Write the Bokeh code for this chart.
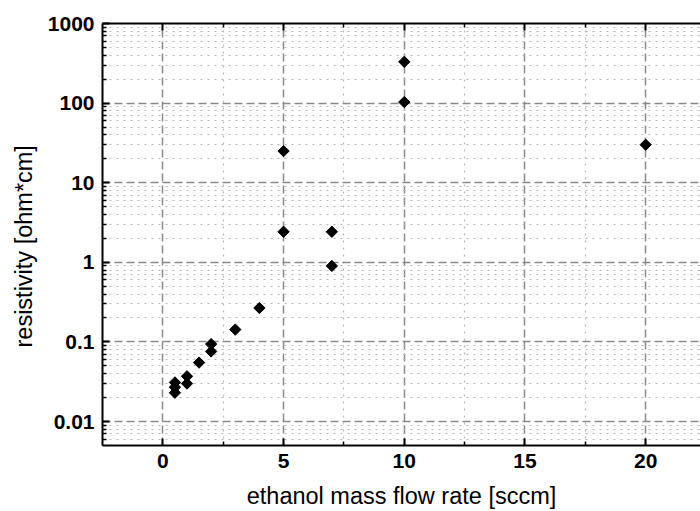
import numpy as np
from bokeh.plotting import figure
from bokeh.models import LinearAxis, FixedTicker, Range1d, Title
from bokeh.embed import file_html
from bokeh.resources import INLINE

# ---- data ----
flow_rate = [0.5, 0.5, 0.5, 1, 1, 1.5, 2, 2, 3, 4, 5, 5, 7, 7, 10, 10, 20]
resistivity = [0.031, 0.027, 0.023, 0.037, 0.030, 0.055, 0.094, 0.076,
               0.143, 0.267, 25.0, 2.42, 2.42, 0.90, 330, 103, 30]

x_ticks = [0, 5, 10, 15, 20]
x_minor_ticks = [2.5, 7.5, 12.5, 17.5]
y_ticks = [0.01, 0.1, 1, 10, 100, 1000]
y_tick_labels = ["0.01", "0.1", "1", "10", "100", "1000"]
y_minor_ticks = [m * 10.0 ** d for d in range(-3, 3) for m in range(2, 10)]
y_minor_ticks = [v for v in y_minor_ticks if 0.005 < v < 1000]

x_label = "ethanol mass flow rate [sccm]"
y_label = "resistivity [ohm*cm]"

FONT = "Liberation Sans"

p = figure(width=700, height=511, output_backend="svg", toolbar_location=None,
           y_axis_type="log",
           x_range=Range1d(-2.5, 22.27), y_range=Range1d(0.005, 1000),
           min_border_left=101, min_border_right=0, min_border_top=23,
           min_border_bottom=66)
p.outline_line_color = None
p.background_fill_color = "white"
p.border_fill_color = "white"

xt = FixedTicker(ticks=x_ticks, minor_ticks=x_minor_ticks)
yt = FixedTicker(ticks=y_ticks, minor_ticks=y_minor_ticks)

for ax in (p.xaxis[0], p.yaxis[0]):
    ax.axis_line_width = 2
    ax.axis_line_color = "black"
    ax.major_tick_line_width = 2
    ax.minor_tick_line_width = 1.5
    ax.major_tick_out = 0
    ax.minor_tick_out = 0
    ax.major_tick_in = 7
    ax.minor_tick_in = 4
    ax.major_label_text_font = FONT
    ax.major_label_text_font_style = "bold"
    ax.major_label_text_font_size = "21px"
    ax.major_label_text_color = "black"
    ax.axis_label_text_font = FONT
    ax.axis_label_text_font_style = "normal"
    ax.axis_label_text_font_size = "23.5px"
    ax.axis_label_text_color = "black"

p.xaxis.ticker = xt
p.yaxis.ticker = yt
p.yaxis.major_label_overrides = dict(zip(y_ticks, y_tick_labels))
p.xaxis.axis_label = x_label
p.xaxis.major_label_standoff = 8
p.yaxis.major_label_standoff = 8
p.xaxis.axis_label_standoff = 12

top = LinearAxis(ticker=xt, axis_line_width=2, axis_line_color="black",
                 major_tick_line_width=2, minor_tick_line_width=1.5,
                 major_tick_out=0, minor_tick_out=0,
                 major_tick_in=7, minor_tick_in=4,
                 major_label_text_font_size="1px", major_label_text_color=None,
                 major_label_standoff=0)
p.add_layout(top, "above")

# y-axis title, sitting a little below the frame centre as in the reference
ytitle = Title(text=y_label, align="left", vertical_align="bottom", offset=98,
               standoff=16, text_font=FONT, text_font_size="23.5px",
               text_font_style="normal", text_color="black")
p.add_layout(ytitle, "left")

for g in (p.xgrid[0], p.ygrid[0]):
    g.grid_line_color = "#8a8a8a"
    g.grid_line_width = 1.5
    g.grid_line_dash = "8 4"
    g.minor_grid_line_color = "#b8b8b8"
    g.minor_grid_line_width = 1.2
    g.minor_grid_line_dash = "2 5"

p.scatter(flow_rate, resistivity, marker="square", angle=np.pi / 4,
          size=8, color="black")

open("out.html", "w").write(file_html(p, INLINE))
